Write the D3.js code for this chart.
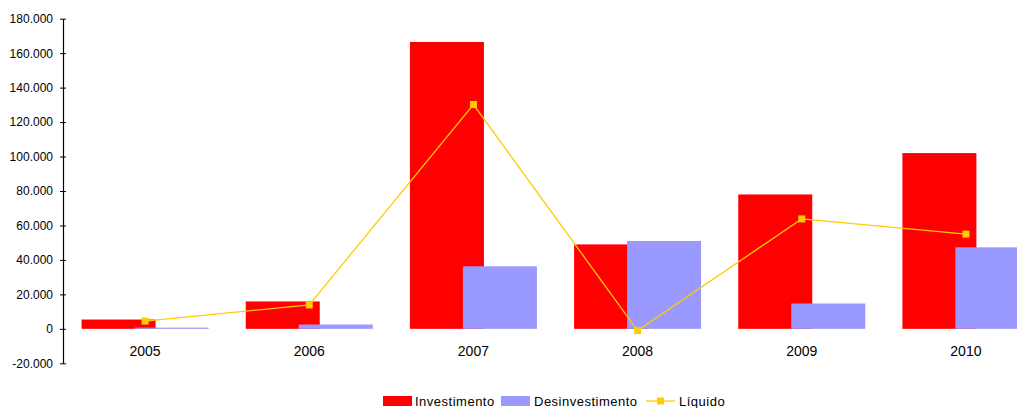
<!DOCTYPE html>
<html>
<head>
<meta charset="utf-8">
<script src="https://cdn.jsdelivr.net/npm/d3@7"></script>
<style>
  body { margin: 0; background: #fff; }
  svg { display: block; font-family: "Liberation Sans", Arial, sans-serif; }
</style>
</head>
<body>
<div id="chart"></div>
<script>
// Chart data
const years = ["2005", "2006", "2007", "2008", "2009", "2010"];
const investimento = [5400, 15900, 166500, 49000, 78000, 102000];
const desinvestimento = [700, 2500, 36300, 51000, 14700, 47300];
const liquido = [4500, 13900, 130200, -1000, 63800, 55000];
const yTicks = [-20000, 0, 20000, 40000, 60000, 80000, 100000, 120000, 140000, 160000, 180000];

const width = 1017, height = 408;

const svg = d3.select('#chart')
    .append('svg')
    .attr('width', width)
    .attr('height', height);

// Scales
const y = d3.scaleLinear()
    .domain([-20000, 180000])
    .range([363.3, 18.7]);

const x = d3.scaleBand()
    .domain(years)
    .range([63, 1048]);

const barW = 74, offset = 53;
const groupW = barW + offset;

// Portuguese style: dot as thousands separator, plain hyphen for minus
const fmt = v => v === 0 ? '0' : (v < 0 ? '-' : '') + d3.format(',')(Math.abs(v)).replace(/,/g, '.');

// Bars - investimento
svg.append('g').selectAll('rect')
    .data(years)
    .enter()
    .append('rect')
    .attr('x', (d) => x(d) + x.bandwidth() / 2 - groupW / 2)
    .attr('y', (d, i) => y(Math.max(0, investimento[i])))
    .attr('width', barW)
    .attr('height', (d, i) => Math.abs(y(investimento[i]) - y(0)))
    .attr('fill', '#ff0000');

// Bars - desinvestimento
svg.append('g').selectAll('rect')
    .data(years)
    .enter()
    .append('rect')
    .attr('x', (d) => x(d) + x.bandwidth() / 2 - groupW / 2 + offset)
    .attr('y', (d, i) => y(Math.max(0, desinvestimento[i])))
    .attr('width', barW)
    .attr('height', (d, i) => Math.abs(y(desinvestimento[i]) - y(0)))
    .attr('fill', '#9999ff');

// Line - liquido
const cx = d => x(d) + x.bandwidth() / 2;
const line = d3.line()
    .x((d, i) => cx(years[i]))
    .y(d => y(d));

svg.append('path')
    .datum(liquido)
    .attr('d', line)
    .attr('fill', 'none')
    .attr('stroke', '#ffcc00')
    .attr('stroke-width', 1.3);

svg.append('g').selectAll('rect')
    .data(liquido)
    .enter()
    .append('rect')
    .attr('x', (d, i) => cx(years[i]) - 3.5)
    .attr('y', d => y(d) - 3.5)
    .attr('width', 7)
    .attr('height', 7)
    .attr('fill', '#ffcc00');

// Y axis
const yAxis = d3.axisLeft(y)
    .tickValues(yTicks)
    .tickFormat(fmt)
    .tickSizeInner(3)
    .tickSizeOuter(0)
    .tickPadding(7);

const yg = svg.append('g')
    .attr('transform', 'translate(63,0)')
    .call(yAxis);
yg.select('.domain').attr('stroke', '#000').attr('stroke-width', 1.2);
yg.selectAll('.tick line').attr('x1', -3).attr('x2', 3).attr('stroke', '#000');
yg.selectAll('.tick text')
    .style('font-size', '12px')
    .attr('fill', '#000');

// X labels
svg.append('g').selectAll('text')
    .data(years)
    .enter()
    .append('text')
    .attr('x', d => cx(d))
    .attr('y', 356)
    .attr('text-anchor', 'middle')
    .style('font-size', '14px')
    .text(d => d);

// Legend
const legend = svg.append('g').style('font-size', '13px').style('letter-spacing', '0.5px');
legend.append('rect').attr('x', 383).attr('y', 396).attr('width', 29).attr('height', 10).attr('fill', '#ff0000');
legend.append('text').attr('x', 415).attr('y', 406).text('Investimento');
legend.append('rect').attr('x', 501).attr('y', 396).attr('width', 29).attr('height', 10).attr('fill', '#9999ff');
legend.append('text').attr('x', 534).attr('y', 406).text('Desinvestimento');
legend.append('line').attr('x1', 646).attr('x2', 675).attr('y1', 401).attr('y2', 401).attr('stroke', '#ffcc00').attr('stroke-width', 1.3);
legend.append('rect').attr('x', 657).attr('y', 397.5).attr('width', 7).attr('height', 7).attr('fill', '#ffcc00');
legend.append('text').attr('x', 679).attr('y', 406).text('Líquido');
</script>
</body>
</html>
